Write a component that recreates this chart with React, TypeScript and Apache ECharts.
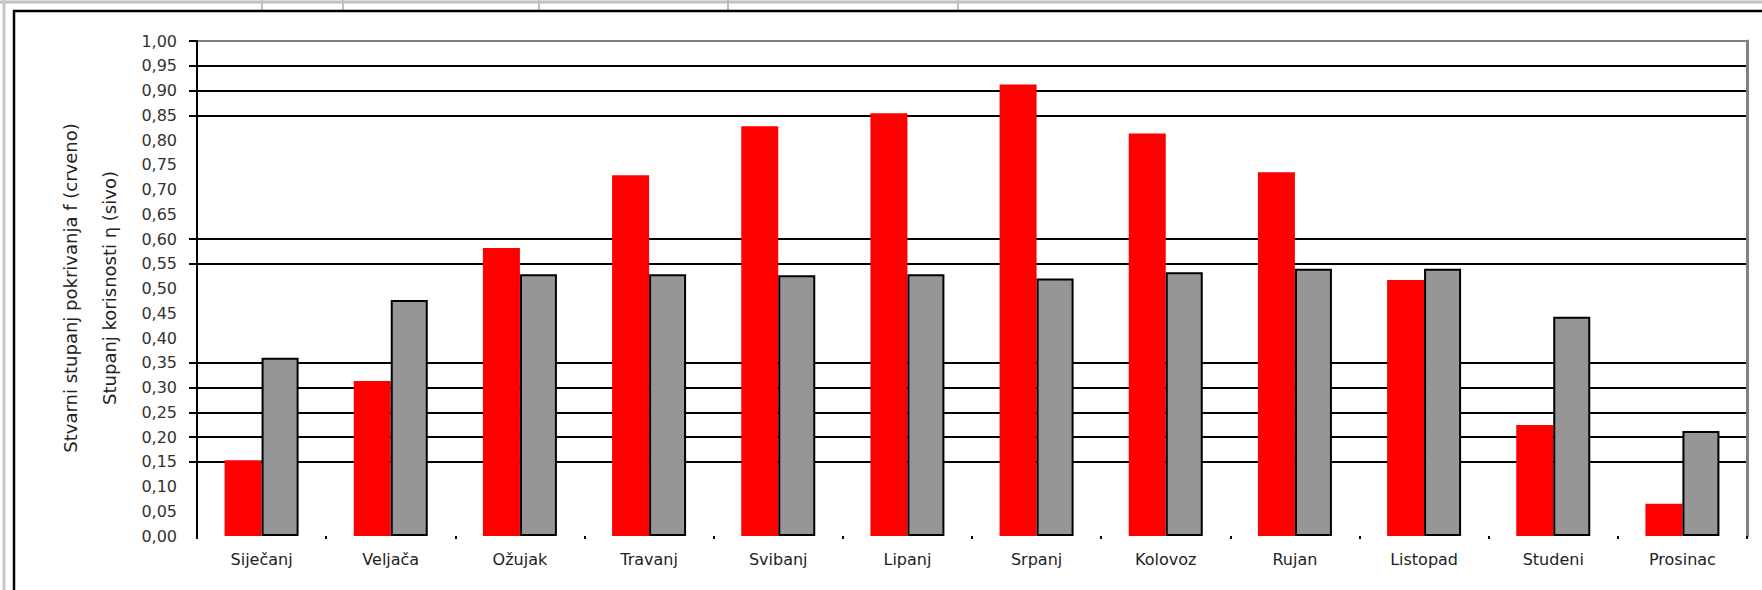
import React, { useEffect, useRef } from "react";
import * as echarts from "echarts";

const months = ["Siječanj", "Veljača", "Ožujak", "Travanj", "Svibanj", "Lipanj", "Srpanj", "Kolovoz", "Rujan", "Listopad", "Studeni", "Prosinac"];
const coverage = [0.153, 0.313, 0.582, 0.729, 0.828, 0.854, 0.912, 0.813, 0.735, 0.517, 0.224, 0.065];
const efficiency = [0.36, 0.477, 0.529, 0.529, 0.527, 0.529, 0.52, 0.533, 0.54, 0.54, 0.443, 0.212];
const gridLevels = [0.15, 0.2, 0.25, 0.3, 0.35, 0.55, 0.6, 0.85, 0.9, 0.95];
const topLevel = 1.0;
const yTitleLines = ["Stvarni stupanj pokrivanja f (crveno)", "Stupanj korisnosti η (sivo)"];
const sheetColumnX = [262, 343, 539, 728, 958];

const FONT = "'DejaVu Sans', 'Liberation Sans', Arial, sans-serif";

export default function App() {
  const ref = useRef<HTMLDivElement>(null);
  useEffect(() => {
    document.body.style.margin = "0";
    if (!ref.current) return;
    const chart = echarts.init(ref.current, null, { renderer: "svg" });
    const tickLevels = [...gridLevels, topLevel];
    const lineColors = [...gridLevels.map(() => "#000000"), "#808080"];
    const graphics: any[] = [
      { type: "line", shape: { x1: 0, y1: 2, x2: 1762, y2: 2 }, style: { stroke: "#c0c0c0", lineWidth: 3 }, z: -10 },
      { type: "line", shape: { x1: 4, y1: 0, x2: 4, y2: 590 }, style: { stroke: "#c8c8c8", lineWidth: 3 }, z: -10 },
      ...sheetColumnX.map((x) => ({ type: "line", shape: { x1: x, y1: 0, x2: x, y2: 10 }, style: { stroke: "#c0c0c0", lineWidth: 2 }, z: -10 })),
      { type: "rect", shape: { x: 14, y: 11, width: 1800, height: 700 }, style: { fill: "#ffffff", stroke: "#000000", lineWidth: 2.5 }, z: -9 },
      ...yTitleLines.map((t, i) => ({
        type: "text",
        x: 70 + i * 39,
        y: 288,
        rotation: Math.PI / 2,
        style: { text: t, font: `18px ${FONT}`, fill: "#222", textAlign: "center", textVerticalAlign: "middle" },
      })),
    ];
    chart.setOption({
      animation: false,
      backgroundColor: "#ffffff",
      grid: { left: 197, right: 15, top: 41, bottom: 54, containLabel: false },
      graphic: graphics,
      xAxis: {
        type: "category",
        data: months,
        axisLine: { show: false },
        axisTick: { show: true, length: 3, lineStyle: { color: "#000", width: 2 } },
        axisLabel: { margin: 15, fontSize: 16, fontFamily: FONT, color: "#222" },
        splitLine: { show: false },
      },
      yAxis: [
        {
          type: "value",
          min: 0,
          max: 1,
          interval: 0.05,
          axisLine: { show: true, lineStyle: { color: "#000", width: 2 } },
          axisTick: { show: true, length: 8, customValues: tickLevels, lineStyle: { color: "#000", width: 2 } },
          axisLabel: {
            margin: 20,
            fontSize: 16,
            fontFamily: FONT,
            color: "#333",
            formatter: (v: number) => v.toFixed(2).replace(".", ","),
          },
          splitLine: { show: true, lineStyle: { color: lineColors, width: 2 } },
        },
        {
          type: "value",
          position: "right",
          min: 0,
          max: 1,
          interval: 0.05,
          axisLine: { show: true, lineStyle: { color: "#808080", width: 3 } },
          axisTick: { show: false },
          axisLabel: { show: false },
          splitLine: { show: false },
        },
      ],
      series: [
        {
          name: "f",
          type: "bar",
          data: coverage,
          barWidth: 37,
          barGap: "0%",
          itemStyle: { color: "#ff0000" },
        },
        {
          name: "η",
          type: "bar",
          data: efficiency,
          barWidth: 37,
          barGap: "0%",
          itemStyle: { color: "#969696", borderColor: "#000000", borderWidth: 2 },
        },
      ],
    });
    return () => chart.dispose();
  }, []);
  return <div ref={ref} style={{ width: 1762, height: 590 }} />;
}
